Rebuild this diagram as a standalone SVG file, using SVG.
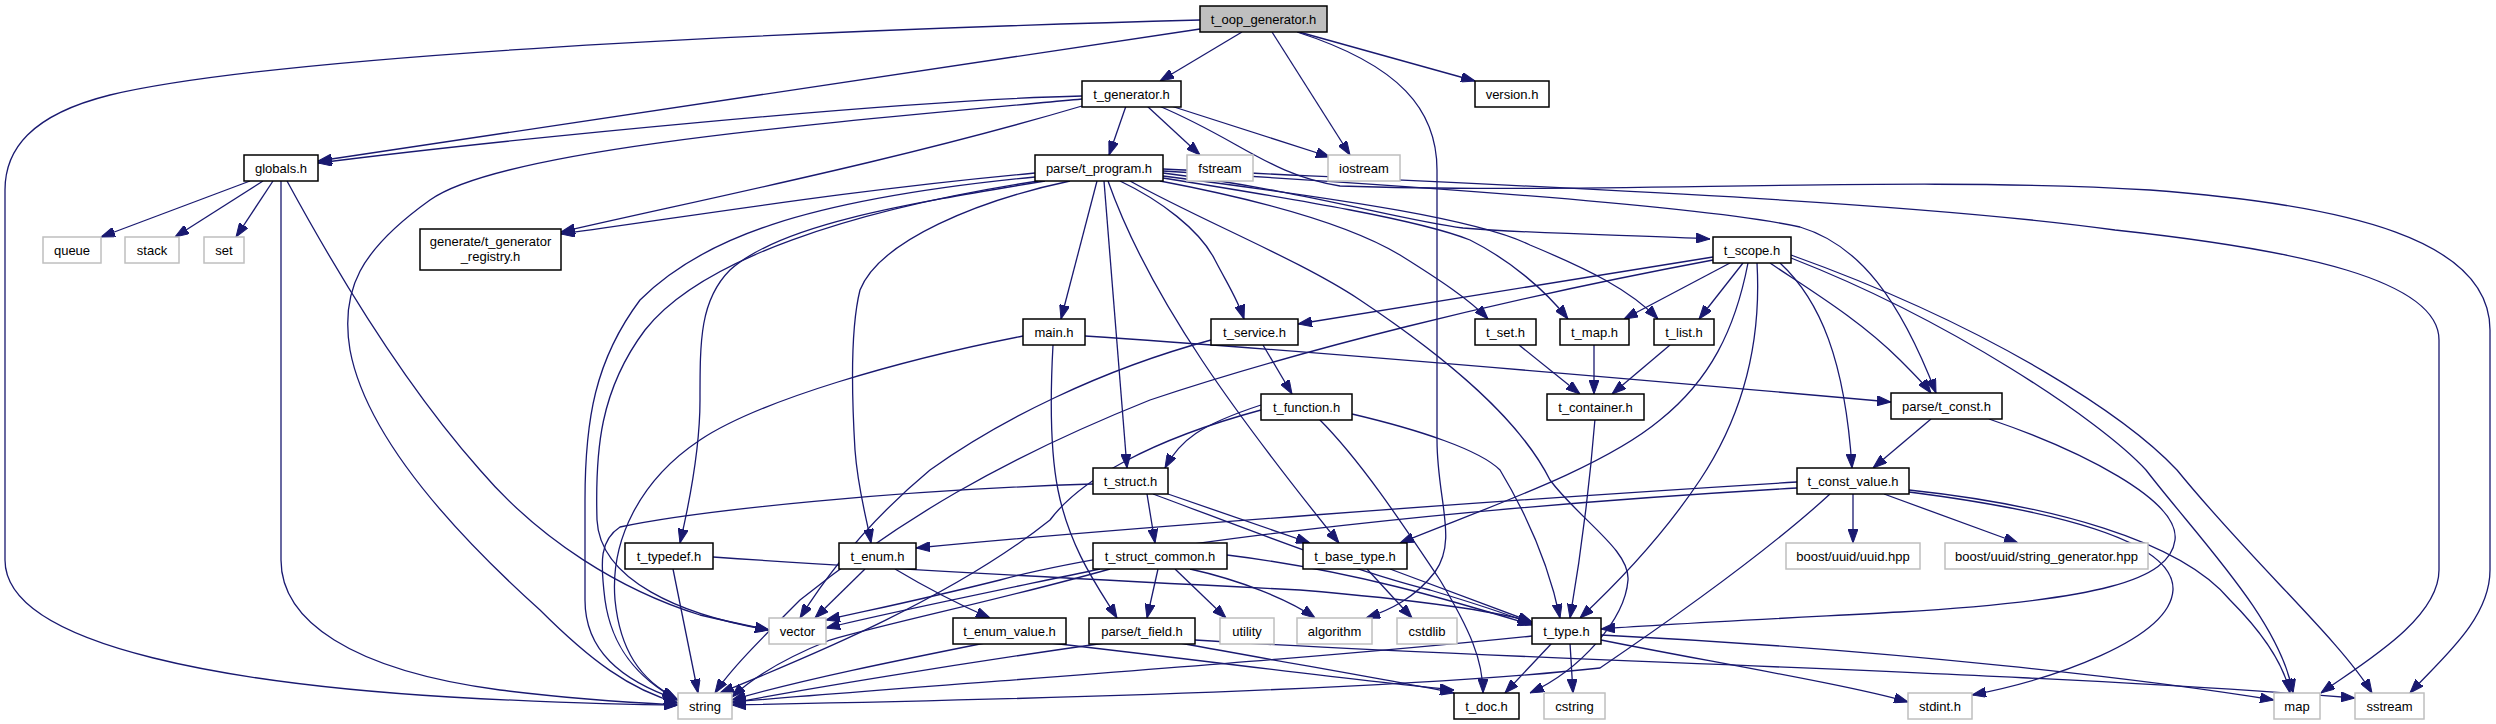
<svg xmlns="http://www.w3.org/2000/svg" width="2496" height="724" viewBox="0 0 2496 724">
<style>
.n rect{fill:#fff;stroke:#000;stroke-width:1.5}
.s rect{fill:#fff;stroke:#bfbfbf;stroke-width:1.5}
.r rect{fill:#bfbfbf;stroke:#000;stroke-width:1.5}
text{font-family:"Liberation Sans",Arial,sans-serif;font-size:13px;fill:#000;text-anchor:middle}
#edges path{fill:none;stroke:#191970;stroke-width:1.3;marker-end:url(#ah)}
</style>
<defs>
<marker id="ah" markerUnits="userSpaceOnUse" markerWidth="14" markerHeight="10" viewBox="0 0 14 10" refX="14" refY="5" orient="auto">
<path d="M0,0 L14,5 L0,10 Z" fill="#191970" stroke="#191970" stroke-width="1"/>
</marker>
</defs>
<rect width="2496" height="724" fill="#fff"/>
<g id="edges">
<path d="M1200,20 C900,28 300,50 110,95 C30,115 5,150 5,190 L5,560 C5,650 250,685 450,697 C560,703 630,705 678,705"/>
<path d="M1200,29 L318,161"/>
<path d="M1242,32 L1160,81"/>
<path d="M1272,32 L1350,155"/>
<path d="M1297,32 C1400,65 1437,110 1437,170 L1437,440 C1437,500 1458,540 1435,572 C1415,598 1390,610 1366,618"/>
<path d="M1299,32 L1475,81"/>
<path d="M1082,96 C900,100 500,140 318,163"/>
<path d="M1082,99 C800,125 500,150 430,200 C360,250 340,290 350,350 C365,430 440,520 540,610 C590,660 630,690 678,703"/>
<path d="M1126,106 L1109,155"/>
<path d="M1147,106 L1200,155"/>
<path d="M1171,106 L1330,157"/>
<path d="M1159,106 C1240,140 1270,175 1340,186 C1600,195 1900,175 2150,190 C2350,205 2490,240 2490,330 L2490,570 C2490,620 2440,660 2410,693"/>
<path d="M1082,106 C900,160 700,200 561,232"/>
<path d="M1035,173 C850,190 700,215 561,234"/>
<path d="M1035,177 C800,200 700,240 640,300 C595,360 585,420 585,500 L585,600 C585,650 620,680 678,700"/>
<path d="M1038,181 C850,210 700,260 645,330 C600,390 595,450 597,520 C600,580 680,615 769,630"/>
<path d="M1045,181 C900,205 780,225 730,270 C700,300 700,340 700,400 C700,450 690,500 680,543"/>
<path d="M1070,181 C980,200 880,240 860,290 C850,330 852,400 855,450 C858,490 866,515 871,543"/>
<path d="M1097,181 L1061,319"/>
<path d="M1104,181 L1127,468"/>
<path d="M1108,181 C1150,300 1240,420 1339,543"/>
<path d="M1120,181 C1160,200 1200,230 1215,260 C1228,285 1238,300 1244,319"/>
<path d="M1130,181 C1200,220 1300,260 1360,300 C1450,360 1520,420 1550,480 C1580,520 1630,550 1628,580 C1625,620 1580,670 1530,693"/>
<path d="M1160,181 C1260,200 1350,225 1400,255 C1440,280 1470,300 1488,319"/>
<path d="M1163,178 C1300,200 1420,220 1470,240 C1510,260 1545,290 1568,319"/>
<path d="M1163,176 C1350,200 1480,220 1530,245 C1590,270 1630,290 1658,319"/>
<path d="M1163,173 C1300,190 1400,220 1463,228 C1550,235 1650,235 1710,239"/>
<path d="M1163,171 C1400,185 1700,205 1800,227 C1860,245 1900,300 1936,393"/>
<path d="M1163,169 C1500,185 1900,200 2115,230 C2300,250 2439,280 2439,340 L2439,570 C2439,620 2360,665 2321,693"/>
<path d="M1023,336 C900,360 760,400 700,440 C640,480 610,540 615,600 C620,650 640,680 676,698"/>
<path d="M1053,345 C1050,400 1050,450 1058,490 C1070,550 1100,590 1117,618"/>
<path d="M1085,336 C1300,350 1700,385 1891,402"/>
<path d="M1713,257 L1298,324"/>
<path d="M1713,260 C1500,300 1300,350 1150,400 C1000,460 900,520 800,600 C760,640 730,670 715,693"/>
<path d="M1730,263 L1624,319"/>
<path d="M1743,263 L1699,319"/>
<path d="M1748,263 C1735,330 1710,380 1660,420 C1600,470 1480,510 1400,543"/>
<path d="M1757,263 C1762,350 1740,420 1700,480 C1660,540 1610,590 1580,618"/>
<path d="M1770,263 C1810,290 1860,320 1900,360 C1915,375 1925,385 1931,393"/>
<path d="M1780,263 C1820,300 1845,360 1852,468"/>
<path d="M1791,258 C1950,320 2100,420 2146,470 C2200,540 2280,620 2293,693"/>
<path d="M1791,255 C2000,330 2130,420 2177,470 C2250,560 2340,640 2372,693"/>
<path d="M1519,345 L1580,394"/>
<path d="M1594,345 L1594,394"/>
<path d="M1670,345 L1612,394"/>
<path d="M1595,419 C1590,480 1580,560 1570,618"/>
<path d="M1263,345 L1292,394"/>
<path d="M1211,340 C1100,370 1000,420 930,470 C870,520 830,570 800,618"/>
<path d="M1261,405 C1200,425 1180,440 1165,468"/>
<path d="M1261,410 C1150,440 1080,480 1050,520 C950,600 800,660 720,693"/>
<path d="M1319,419 C1360,460 1400,520 1440,580 C1470,630 1483,660 1483,693"/>
<path d="M1352,414 C1420,430 1480,450 1500,470 C1530,520 1550,570 1560,618"/>
<path d="M1931,419 L1873,468"/>
<path d="M1989,419 C2080,450 2180,500 2175,540 C2170,580 2100,600 1900,612 C1750,620 1650,625 1601,629"/>
<path d="M1093,484 C900,490 700,510 620,527 C600,540 600,560 605,600 C612,650 640,680 678,700"/>
<path d="M1147,494 L1155,543"/>
<path d="M1168,494 L1310,543"/>
<path d="M1153,494 C1250,530 1350,570 1430,590 C1480,605 1510,615 1532,624"/>
<path d="M1100,569 C1000,590 900,610 826,628"/>
<path d="M1110,569 C1000,600 900,620 830,640 C780,660 750,680 732,697"/>
<path d="M1158,569 L1147,618"/>
<path d="M1175,569 L1226,618"/>
<path d="M1190,569 C1240,580 1290,600 1315,618"/>
<path d="M1227,555 C1350,570 1450,600 1532,625"/>
<path d="M1367,569 L1412,618"/>
<path d="M1390,569 L1532,622"/>
<path d="M673,569 L698,693"/>
<path d="M713,557 C900,570 1100,580 1300,590 C1420,600 1500,612 1532,622"/>
<path d="M865,569 L815,618"/>
<path d="M895,569 C930,590 960,605 990,618"/>
<path d="M985,643 C900,660 800,680 732,700"/>
<path d="M1050,643 C1200,660 1350,680 1454,690"/>
<path d="M1105,643 C950,665 800,690 732,703"/>
<path d="M1180,643 C1300,665 1400,682 1454,693"/>
<path d="M1195,640 C1500,660 2000,670 2355,698"/>
<path d="M1797,482 C1500,500 1100,530 916,548"/>
<path d="M1797,488 C1500,505 1150,540 1000,580 C920,600 870,610 826,620"/>
<path d="M1830,494 C1780,540 1700,600 1600,668 C1400,690 1000,700 732,705"/>
<path d="M1853,494 L1853,543"/>
<path d="M1884,494 L2018,543"/>
<path d="M1909,490 C2050,505 2180,540 2230,600 C2270,640 2285,670 2290,693"/>
<path d="M1909,492 C2050,510 2175,540 2173,590 C2170,640 2050,680 1972,695"/>
<path d="M1532,636 C1300,660 1000,680 732,702"/>
<path d="M1552,643 L1505,693"/>
<path d="M1570,643 L1573,693"/>
<path d="M1601,640 C1700,660 1850,685 1908,702"/>
<path d="M1601,635 C1900,650 2150,680 2274,700"/>
<path d="M250,181 L101,237"/>
<path d="M263,181 L175,237"/>
<path d="M273,181 L236,237"/>
<path d="M287,181 C330,260 400,380 480,470 C540,540 620,590 700,615 C730,622 750,626 769,630"/>
<path d="M281,181 L281,560 C281,620 350,670 500,690 C580,700 640,703 678,705"/>
</g>
<g id="root" class="r"><rect x="1200" y="6" width="127" height="26"/><text x="1263.5" y="23.5">t_oop_generator.h</text></g>
<g id="tgen" class="n"><rect x="1082" y="81" width="99" height="26"/><text x="1131.5" y="98.5">t_generator.h</text></g>
<g id="version" class="n"><rect x="1475" y="81" width="74" height="26"/><text x="1512" y="98.5">version.h</text></g>
<g id="globals" class="n"><rect x="244" y="155" width="74" height="26"/><text x="281" y="172.5">globals.h</text></g>
<g id="tprog" class="n"><rect x="1035" y="155" width="128" height="26"/><text x="1099" y="172.5">parse/t_program.h</text></g>
<g id="fstream" class="s"><rect x="1187" y="155" width="66" height="26"/><text x="1220" y="172.5">fstream</text></g>
<g id="iostream" class="s"><rect x="1328" y="155" width="72" height="26"/><text x="1364" y="172.5">iostream</text></g>
<g id="registry" class="n"><rect x="420" y="229" width="141" height="41"/><text x="490.5" y="246">generate/t_generator</text><text x="490.5" y="261">_registry.h</text></g>
<g id="queue" class="s"><rect x="43" y="237" width="58" height="26"/><text x="72" y="254.5">queue</text></g>
<g id="stack" class="s"><rect x="125" y="237" width="54" height="26"/><text x="152" y="254.5">stack</text></g>
<g id="set" class="s"><rect x="204" y="237" width="40" height="26"/><text x="224" y="254.5">set</text></g>
<g id="tscope" class="n"><rect x="1713" y="237" width="78" height="26"/><text x="1752" y="254.5">t_scope.h</text></g>
<g id="tservice" class="n"><rect x="1211" y="319" width="87" height="26"/><text x="1254.5" y="336.5">t_service.h</text></g>
<g id="tset" class="n"><rect x="1475" y="319" width="61" height="26"/><text x="1505.5" y="336.5">t_set.h</text></g>
<g id="tmap" class="n"><rect x="1560" y="319" width="69" height="26"/><text x="1594.5" y="336.5">t_map.h</text></g>
<g id="tlist" class="n"><rect x="1654" y="319" width="60" height="26"/><text x="1684" y="336.5">t_list.h</text></g>
<g id="main" class="n"><rect x="1023" y="319" width="62" height="26"/><text x="1054" y="336.5">main.h</text></g>
<g id="tfunction" class="n"><rect x="1261" y="394" width="91" height="26"/><text x="1306.5" y="411.5">t_function.h</text></g>
<g id="tcontainer" class="n"><rect x="1547" y="394" width="97" height="26"/><text x="1595.5" y="411.5">t_container.h</text></g>
<g id="tconst" class="n"><rect x="1891" y="393" width="111" height="26"/><text x="1946.5" y="410.5">parse/t_const.h</text></g>
<g id="tstruct" class="n"><rect x="1093" y="468" width="75" height="26"/><text x="1130.5" y="485.5">t_struct.h</text></g>
<g id="tcv" class="n"><rect x="1797" y="468" width="112" height="26"/><text x="1853" y="485.5">t_const_value.h</text></g>
<g id="ttypedef" class="n"><rect x="625" y="543" width="88" height="26"/><text x="669" y="560.5">t_typedef.h</text></g>
<g id="tenum" class="n"><rect x="839" y="543" width="77" height="26"/><text x="877.5" y="560.5">t_enum.h</text></g>
<g id="tsc" class="n"><rect x="1093" y="543" width="134" height="26"/><text x="1160" y="560.5">t_struct_common.h</text></g>
<g id="tbase" class="n"><rect x="1303" y="543" width="104" height="26"/><text x="1355" y="560.5">t_base_type.h</text></g>
<g id="uuid" class="s"><rect x="1786" y="543" width="134" height="26"/><text x="1853" y="560.5">boost/uuid/uuid.hpp</text></g>
<g id="strgen" class="s"><rect x="1945" y="543" width="203" height="26"/><text x="2046.5" y="560.5">boost/uuid/string_generator.hpp</text></g>
<g id="vector" class="s"><rect x="769" y="618" width="57" height="26"/><text x="797.5" y="635.5">vector</text></g>
<g id="tenumval" class="n"><rect x="953" y="618" width="113" height="26"/><text x="1009.5" y="635.5">t_enum_value.h</text></g>
<g id="tfield" class="n"><rect x="1089" y="618" width="106" height="26"/><text x="1142" y="635.5">parse/t_field.h</text></g>
<g id="utility" class="s"><rect x="1220" y="618" width="54" height="26"/><text x="1247" y="635.5">utility</text></g>
<g id="algorithm" class="s"><rect x="1297" y="618" width="75" height="26"/><text x="1334.5" y="635.5">algorithm</text></g>
<g id="cstdlib" class="s"><rect x="1397" y="618" width="60" height="26"/><text x="1427" y="635.5">cstdlib</text></g>
<g id="ttype" class="n"><rect x="1532" y="618" width="69" height="26"/><text x="1566.5" y="635.5">t_type.h</text></g>
<g id="string" class="s"><rect x="678" y="693" width="54" height="26"/><text x="705" y="710.5">string</text></g>
<g id="tdoc" class="n"><rect x="1454" y="693" width="65" height="26"/><text x="1486.5" y="710.5">t_doc.h</text></g>
<g id="cstring" class="s"><rect x="1544" y="693" width="61" height="26"/><text x="1574.5" y="710.5">cstring</text></g>
<g id="stdint" class="s"><rect x="1908" y="693" width="64" height="26"/><text x="1940" y="710.5">stdint.h</text></g>
<g id="map" class="s"><rect x="2274" y="693" width="46" height="26"/><text x="2297" y="710.5">map</text></g>
<g id="sstream" class="s"><rect x="2355" y="693" width="69" height="26"/><text x="2389.5" y="710.5">sstream</text></g>
</svg>
